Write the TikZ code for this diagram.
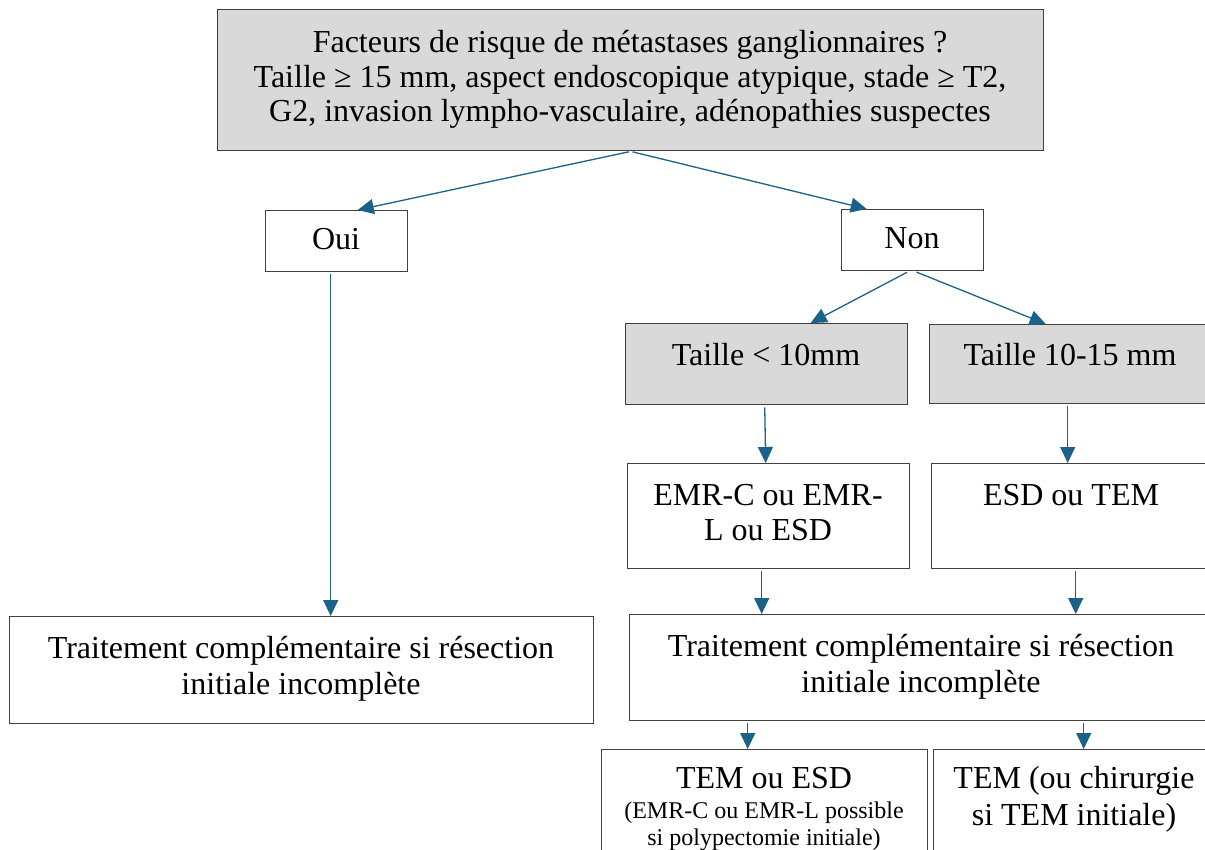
\documentclass[tikz,border=0pt]{standalone}
\usepackage{fontspec}
\setmainfont{Liberation Serif}
\usetikzlibrary{arrows.meta}
\definecolor{flow}{RGB}{26,98,136}
\definecolor{boxgray}{RGB}{217,217,217}
\definecolor{edgegray}{RGB}{64,64,64}

\tikzset{
  box/.style={draw=edgegray, line width=1.4pt, inner sep=0pt, anchor=north west},
  graybox/.style={box, fill=boxgray},
  lbl/.style={anchor=base, inner sep=0pt, font=\fontsize{32}{36}\selectfont},
  smalllbl/.style={anchor=base, inner sep=0pt, font=\fontsize{24}{26}\selectfont},
  link/.style={draw=flow, line width=1.3pt, -{Triangle[length=16pt,width=15pt]}, shorten <=2pt},
}

\begin{document}
\begin{tikzpicture}[x=1pt, y=-1pt]
\useasboundingbox (0,0) rectangle (1205,850);
\clip (0,0) rectangle (1205,850);

% boxes
\node[graybox, minimum width=826, minimum height=141] (top) at (217,9) {};
\node[box, minimum width=142, minimum height=61] (oui) at (265,210) {};
\node[box, minimum width=142, minimum height=61] (non) at (841,209) {};
\node[graybox, minimum width=282, minimum height=81] (t10) at (625,323) {};
\node[graybox, minimum width=282, minimum height=79] (t15) at (929,324) {};
\node[box, minimum width=282, minimum height=105] (emr) at (627,463) {};
\node[box, minimum width=280, minimum height=105] (esd) at (931,463) {};
\node[box, minimum width=584, minimum height=107] (trtL) at (9,616) {};
\node[box, minimum width=584, minimum height=106] (trtR) at (629,614) {};
\node[box, minimum width=326, minimum height=130] (temL) at (601,749) {};
\node[box, minimum width=282, minimum height=130] (temR) at (933,749) {};

% texts
\node[lbl] (topA) at (630,53) {Facteurs de risque de métastases ganglionnaires ?};
\node[lbl] (topB) at (630,87.5) {Taille ≥ 15 mm, aspect endoscopique atypique, stade ≥ T2,};
\node[lbl] (topC) at (630,122) {G2, invasion lympho-vasculaire, adénopathies suspectes};
\node[lbl] (ouiT) at (336,250) {Oui};
\node[lbl] (nonT) at (912,249) {Non};
\node[lbl] (t10T) at (766,365) {Taille < 10mm};
\node[lbl] (t15T) at (1070,365) {Taille 10-15 mm};
\node[lbl] (emrA) at (768,505) {EMR-C ou EMR-};
\node[lbl] (emrB) at (768,540) {L ou ESD};
\node[lbl] (esdT) at (1071,505) {ESD ou TEM};
\node[lbl] (trtLA) at (301,658) {Traitement complémentaire si résection};
\node[lbl] (trtLB) at (301,694) {initiale incomplète};
\node[lbl] (trtRA) at (921,656) {Traitement complémentaire si résection};
\node[lbl] (trtRB) at (921,692) {initiale incomplète};
\node[lbl] (temLA) at (764,788) {TEM ou ESD};
\node[smalllbl] (temLB) at (764,818) {(EMR-C ou EMR-L possible};
\node[smalllbl] (temLC) at (764,845) {si polypectomie initiale)};
\node[lbl] (temRA) at (1074,788) {TEM (ou chirurgie};
\node[lbl] (temRB) at (1074,825) {si TEM initiale)};

% connectors
\draw[link] (top.south) -- ([xshift=21pt]oui.north);
\draw[link] (top.south) -- ([xshift=-46pt]non.north);
\draw[link] ([xshift=-4pt]non.south) -- ([xshift=44pt]t10.north);
\draw[link] ([xshift=2pt]non.south) -- ([xshift=-25pt]t15.north);
\draw[link] ([xshift=-2pt]t10.south) -- ([xshift=-3pt]emr.north);
\draw[link] ([xshift=-3pt]t15.south) -- ([xshift=-4pt]esd.north);
\draw[link] ([xshift=-6pt]oui.south) -- ([xshift=-6pt]oui.south |- trtL.north);
\draw[link] ([xshift=-7pt]emr.south) -- ([xshift=-7pt]emr.south |- trtR.north);
\draw[link] ([xshift=4pt]esd.south) -- ([xshift=4pt]esd.south |- trtR.north);
\draw[link] ([xshift=-17pt]temL.north |- trtR.south) -- ([xshift=-17pt]temL.north);
\draw[link] ([xshift=9pt]temR.north |- trtR.south) -- ([xshift=9pt]temR.north);
\end{tikzpicture}
\end{document}
